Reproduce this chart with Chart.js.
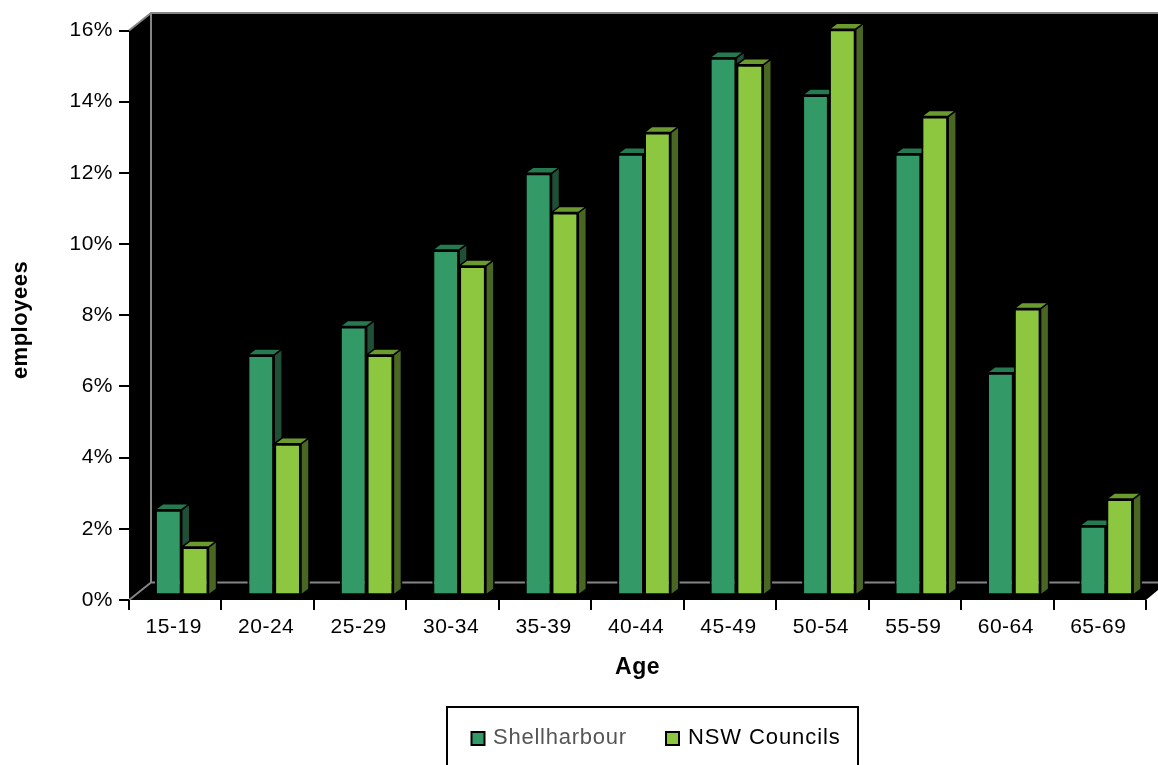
<!DOCTYPE html>
<html>
<head>
<meta charset="utf-8">
<title>Age profile of employees</title>
<script src="https://cdn.jsdelivr.net/npm/chart.js@4"></script>
<style>
  html, body { margin: 0; padding: 0; background: #fff; overflow: hidden; }
  canvas { display: block; }
</style>
</head>
<body>
<canvas id="ageChart" width="1158" height="765"></canvas>
<script>
// Age bands and share of employees (%)
const ageBands = ['15-19', '20-24', '25-29', '30-34', '35-39', '40-44', '45-49', '50-54', '55-59', '60-64', '65-69'];
const shellharbour = [2.5, 6.85, 7.65, 9.8, 11.95, 12.5, 15.2, 14.15, 12.5, 6.35, 2.05];
const nswCouncils = [1.45, 4.35, 6.85, 9.35, 10.85, 13.1, 15.0, 16.0, 13.55, 8.15, 2.8];
const yTicks = [0, 2, 4, 6, 8, 10, 12, 14, 16];

const FONT = '"Liberation Sans", Arial, sans-serif';
const GREY = '#858585';

// Depth of the box behind the front plane, and of each bar
const WALL_DX = 22, WALL_DY = 17.5;
const BAR_DX = 8, BAR_DY = 6;
const BAR_SHIFT_X = 6.5, BAR_SHIFT_Y = -1.3;

const palette = [
  { front: '#339966', side: '#1f4f36', top: '#257a4f' },
  { front: '#8dc63f', side: '#4a6623', top: '#6b9a2e' }
];

function fillShape(ctx, points, fill, stroke, width) {
  ctx.beginPath();
  points.forEach((p, i) => (i ? ctx.lineTo(p[0], p[1]) : ctx.moveTo(p[0], p[1])));
  ctx.closePath();
  ctx.fillStyle = fill;
  ctx.fill();
  if (stroke) {
    ctx.strokeStyle = stroke;
    ctx.lineWidth = width;
    ctx.stroke();
  }
}

// Black box with grey edges behind the plot
const boxPlugin = {
  id: 'box',
  beforeDraw(chart) {
    const { ctx, chartArea: a, width } = chart;
    ctx.letterSpacing = '0.5px';
    fillShape(ctx, [
      [a.left, a.top], [a.left + WALL_DX, a.top - WALL_DY], [width, a.top - WALL_DY],
      [width, a.bottom - 10], [a.right, a.bottom], [a.left, a.bottom]
    ], '#000');

    ctx.strokeStyle = GREY;
    ctx.lineWidth = 2;
    ctx.beginPath();
    ctx.moveTo(a.left, a.top);
    ctx.lineTo(a.left + WALL_DX, a.top - WALL_DY);
    ctx.lineTo(width, a.top - WALL_DY);
    ctx.moveTo(a.left + WALL_DX, a.top - WALL_DY);
    ctx.lineTo(a.left + WALL_DX, a.bottom - WALL_DY);
    ctx.lineTo(width, a.bottom - WALL_DY);
    ctx.moveTo(a.left + WALL_DX, a.bottom - WALL_DY);
    ctx.lineTo(a.left, a.bottom);
    ctx.stroke();
  }
};

// Extruded bars: series drawn first to last so the later one overlaps the side of the earlier
const bars3dPlugin = {
  id: 'bars3d',
  beforeDatasetsDraw(chart) {
    const ctx = chart.ctx;
    ctx.save();
    ctx.translate(BAR_SHIFT_X, BAR_SHIFT_Y);
    chart.data.datasets.forEach((ds, d) => {
      const colors = palette[d];
      chart.getDatasetMeta(d).data.forEach(bar => {
        const { x, y, base, width } = bar.getProps(['x', 'y', 'base', 'width']);
        const l = x - width / 2, r = x + width / 2;
        fillShape(ctx, [[r, y], [r + BAR_DX, y - BAR_DY], [r + BAR_DX, base - BAR_DY], [r, base]], colors.side, '#000', 1.5);
        fillShape(ctx, [[l, y], [l + BAR_DX, y - BAR_DY], [r + BAR_DX, y - BAR_DY], [r, y]], colors.top, '#000', 1.5);
        bar.draw(ctx);
      });
    });
    ctx.restore();
    return false;
  }
};

// Boxed legend cut off by the bottom of the canvas, plus the rotated value-axis title
const legendBoxPlugin = {
  id: 'legendBox',
  afterDraw(chart) {
    const ctx = chart.ctx;
    ctx.save();
    ctx.strokeStyle = '#000';
    ctx.lineWidth = 2;
    ctx.beginPath();
    ctx.moveTo(447, 770);
    ctx.lineTo(447, 707);
    ctx.lineTo(858, 707);
    ctx.lineTo(858, 770);
    ctx.stroke();

    const items = [
      { swatch: 471.5, text: 493, color: '#555', spacing: '0.75px' },
      { swatch: 666, text: 688, color: '#000', spacing: '0.9px' }
    ];
    ctx.font = '22px ' + FONT;
    ctx.textBaseline = 'middle';
    ctx.textAlign = 'left';
    chart.data.datasets.forEach((ds, i) => {
      const item = items[i];
      fillShape(ctx, [
        [item.swatch, 732], [item.swatch + 13, 732], [item.swatch + 13, 745], [item.swatch, 745]
      ], palette[i].front, '#000', 2);
      ctx.letterSpacing = item.spacing;
      ctx.fillStyle = item.color;
      ctx.fillText(ds.label, item.text, 738);
    });

    ctx.translate(21, 320);
    ctx.rotate(-Math.PI / 2);
    ctx.letterSpacing = '0.5px';
    ctx.font = 'bold 22px ' + FONT;
    ctx.textAlign = 'center';
    ctx.fillStyle = '#000';
    ctx.fillText('employees', 0, 0);
    ctx.restore();
  }
};

new Chart(document.getElementById('ageChart'), {
  type: 'bar',
  data: {
    labels: ageBands,
    datasets: [
      { label: 'Shellharbour', data: shellharbour, backgroundColor: palette[0].front },
      { label: 'NSW Councils', data: nswCouncils, backgroundColor: palette[1].front }
    ]
  },
  plugins: [boxPlugin, bars3dPlugin, legendBoxPlugin],
  options: {
    responsive: false,
    animation: false,
    layout: { padding: { top: 30.5, right: 12 } },
    datasets: {
      bar: {
        base: 0.1,
        borderColor: '#000',
        borderWidth: 2,
        borderSkipped: false,
        categoryPercentage: 0.58,
        barPercentage: 1
      }
    },
    plugins: {
      legend: { display: false },
      tooltip: { enabled: false }
    },
    scales: {
      x: {
        afterFit: scale => { scale.height = 165; },
        border: { display: false },
        grid: { drawOnChartArea: false, color: '#000', lineWidth: 2, tickLength: 10 },
        ticks: { color: '#000', font: { family: FONT, size: 21 }, padding: 5, maxRotation: 0, labelOffset: -1.5 },
        title: {
          display: true,
          text: 'Age',
          color: '#000',
          font: { family: FONT, size: 23, weight: 'bold' },
          padding: { top: 15, bottom: 84 }
        }
      },
      y: {
        min: 0,
        max: 16,
        afterFit: scale => { scale.width = 129; },
        afterBuildTicks: scale => { scale.ticks = yTicks.map(value => ({ value })); },
        border: { display: false },
        grid: { drawOnChartArea: false, color: '#000', lineWidth: 2, tickLength: 10 },
        ticks: {
          color: '#000',
          font: { family: FONT, size: 21 },
          padding: 6,
          callback: value => value + '%'
        }
      }
    }
  }
});
</script>
</body>
</html>
